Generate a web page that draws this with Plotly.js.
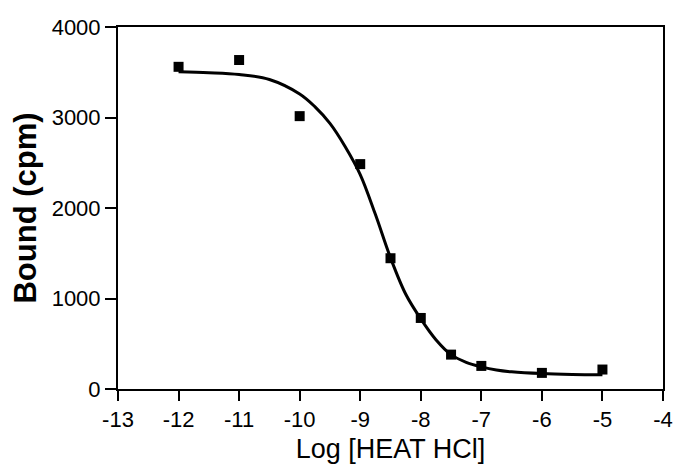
<!DOCTYPE html>
<html>
<head>
<meta charset="utf-8">
<script src="https://cdn.plot.ly/plotly-3.0.1.min.js"></script>
<style>
html,body{margin:0;padding:0;background:#fff;}
#chart{width:674px;height:473px;}
</style>
</head>
<body>
<div id="chart"></div>
<script>
// Measured data points
const logConc = [-12, -11, -10, -9, -8.5, -8, -7.5, -7, -6, -5];
const bound = [3560, 3635, 3015, 2485, 1445, 785, 380, 255, 178, 215];

// Fitted curve
const curveX = [-12, -11.5, -11, -10.5, -10, -9.75, -9.5, -9.25, -9, -8.75, -8.5, -8.25, -8, -7.75, -7.5, -7.25, -7, -6.75, -6.5, -6, -5.5, -5];
const curveY = [3505, 3495, 3475, 3420, 3260, 3120, 2935, 2680, 2370, 1930, 1450, 1050, 775, 545, 380, 295, 245, 210, 190, 170, 161, 158];

const xTicks = [-13, -12, -11, -10, -9, -8, -7, -6, -5, -4];
const yTicks = [0, 1000, 2000, 3000, 4000];

const FONT = "Liberation Sans, Arial, sans-serif";

const traces = [
  {
    x: curveX, y: curveY, type: 'scatter', mode: 'lines',
    line: {color: '#000', width: 3, shape: 'spline', smoothing: 1},
    hoverinfo: 'skip', showlegend: false
  },
  {
    x: logConc, y: bound, type: 'scatter', mode: 'markers',
    marker: {symbol: 'square', size: 10, color: '#000'},
    showlegend: false
  }
];

const layout = {
  width: 674, height: 473,
  margin: {l: 118, r: 11, t: 27, b: 84},
  paper_bgcolor: '#fff', plot_bgcolor: '#fff',
  font: {family: FONT, color: '#000', size: 22},
  showlegend: false,
  xaxis: {
    range: [-13, -4], tickvals: xTicks, ticktext: xTicks.map(String),
    showgrid: false, zeroline: false,
    showline: true, linecolor: '#000', linewidth: 2, mirror: true,
    ticks: 'outside', ticklen: 10, tickwidth: 2, tickcolor: '#000',
    tickfont: {family: FONT, size: 22, color: '#000'},
    title: {text: 'Log [HEAT HCl]', font: {family: FONT, size: 27, color: '#000'}, standoff: 8}
  },
  yaxis: {
    range: [0, 4000], tickvals: yTicks, ticktext: yTicks.map(String),
    showgrid: false, zeroline: false,
    showline: true, linecolor: '#000', linewidth: 2, mirror: true,
    ticks: 'outside', ticklen: 11, tickwidth: 2, tickcolor: '#000',
    tickfont: {family: FONT, size: 22, color: '#000'},
    title: {text: '<b>Bound (cpm)</b>', font: {family: FONT, size: 31, color: '#000'}, standoff: 6}
  }
};

Plotly.newPlot('chart', traces, layout, {displayModeBar: false, staticPlot: true});
</script>
</body>
</html>
